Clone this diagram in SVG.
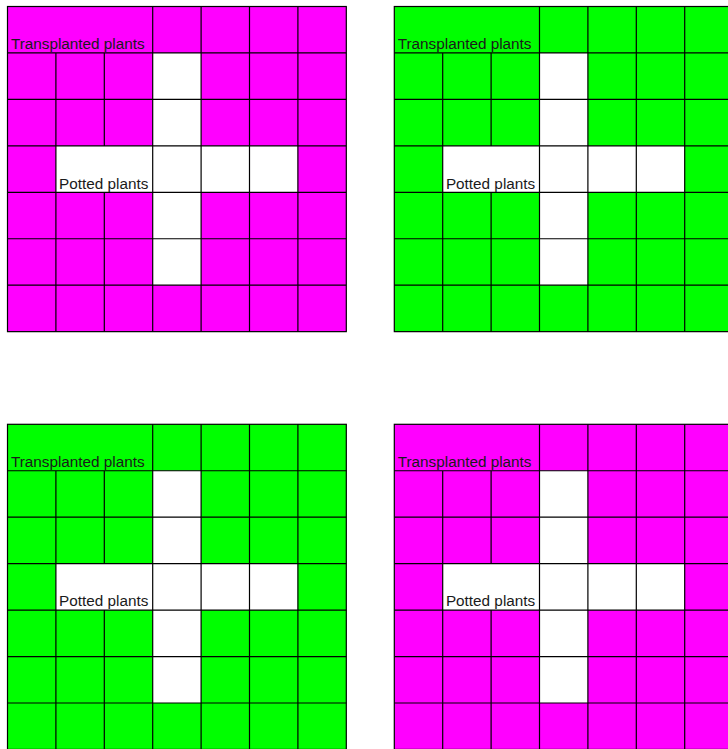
<svg xmlns="http://www.w3.org/2000/svg" xmlns:xlink="http://www.w3.org/1999/xlink" width="728" height="749" viewBox="0 0 728 749">
<style>
.mag{fill:#ff00ff}
.grn{fill:#00ff00}
.w{fill:#ffffff}
.ln{fill:none;stroke:#000;stroke-width:1.2}
.lbl{font-family:"Liberation Sans",Arial,sans-serif;font-size:15.3px;fill:#1a1a1a}
</style>
<defs>
<g id="grid">
<rect class="w" x="145.2" y="46.45" width="48.4" height="232.25"/>
<rect class="w" x="48.4" y="139.35" width="241.9" height="46.45"/>
<path class="ln" d="M0 46.45H338.8M0 92.9H338.8M0 139.35H338.8M0 185.8H338.8M0 232.25H338.8M0 278.7H338.8M48.4 46.45V325.15M96.8 46.45V139.35M96.8 185.8V325.15M145.2 0V325.15M193.6 0V325.15M242 0V325.15M290.4 0V325.15"/>
<rect class="ln" x="0" y="0" width="338.8" height="325.15"/>
</g>
</defs>
<g id="panel-top-left" transform="translate(7.5,6.5)">
<rect class="mag" x="0" y="0" width="338.8" height="325.15"/>
<use xlink:href="#grid" href="#grid"/>
<text class="lbl" x="3.4" y="42.5">Transplanted plants</text>
<text class="lbl" x="51.6" y="182">Potted plants</text>
</g>
<g id="panel-top-right" transform="translate(394.3,6.5)">
<rect class="grn" x="0" y="0" width="338.8" height="325.15"/>
<use xlink:href="#grid" href="#grid"/>
<text class="lbl" x="3.4" y="42.5">Transplanted plants</text>
<text class="lbl" x="51.6" y="182">Potted plants</text>
</g>
<g id="panel-bottom-left" transform="translate(7.5,424.3)">
<rect class="grn" x="0" y="0" width="338.8" height="325.15"/>
<use xlink:href="#grid" href="#grid"/>
<text class="lbl" x="3.4" y="42.5">Transplanted plants</text>
<text class="lbl" x="51.6" y="182">Potted plants</text>
</g>
<g id="panel-bottom-right" transform="translate(394.3,424.3)">
<rect class="mag" x="0" y="0" width="338.8" height="325.15"/>
<use xlink:href="#grid" href="#grid"/>
<text class="lbl" x="3.4" y="42.5">Transplanted plants</text>
<text class="lbl" x="51.6" y="182">Potted plants</text>
</g>
</svg>
